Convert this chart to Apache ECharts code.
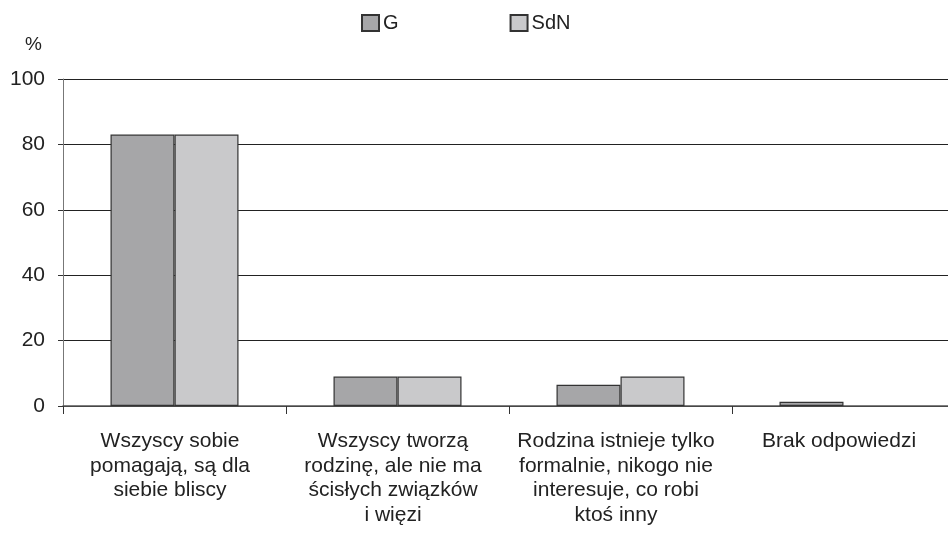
<!DOCTYPE html>
<html>
<head>
<meta charset="utf-8">
<script src="https://cdn.jsdelivr.net/npm/echarts@6/dist/echarts.min.js"></script>
<style>
html, body { margin: 0; padding: 0; background: #fff; }
#chart { width: 948px; height: 540px; }
</style>
</head>
<body>
<div id="chart"></div>
<script>
const categories = [
    'Wszyscy sobie\npomagają, są dla\nsiebie bliscy',
    'Wszyscy tworzą\nrodzinę, ale nie ma\nścisłych związków\ni więzi',
    'Rodzina istnieje tylko\nformalnie, nikogo nie\ninteresuje, co robi\nktoś inny',
    'Brak odpowiedzi'
];
const seriesNames = ['G', 'SdN'];
const valuesG = [83, 9, 6.5, 1.3];
const valuesSdN = [83, 9, 9, null];

const myChart = echarts.init(document.getElementById('chart'));
const font = 'Liberation Sans, Arial, sans-serif';

const option = {
    animation: false,
    textStyle: { fontFamily: font, color: '#222' },
    title: {
        text: '%',
        left: 20,
        top: 30,
        padding: 5,
        textStyle: { fontFamily: font, fontSize: 19, fontWeight: 'normal', color: '#222' }
    },
    legend: {
        top: 13,
        left: 361,
        padding: 0,
        icon: 'rect',
        itemWidth: 17,
        itemHeight: 16,
        itemGap: 111,
        textStyle: { fontSize: 20, color: '#222', padding: [0, 0, 0, -1] },
        data: seriesNames
    },
    grid: {
        left: 63,
        top: 79,
        right: -7,
        height: 327,
        outerBoundsMode: 'none'
    },
    xAxis: {
        type: 'category',
        data: categories,
        axisLine: { lineStyle: { color: '#555', width: 1.5 } },
        axisTick: { show: true, length: 8, lineStyle: { color: '#333' } },
        axisLabel: {
            fontSize: 21,
            lineHeight: 24.5,
            margin: 23,
            color: '#222',
            interval: 0,
            padding: [0, 9, 0, 0]
        }
    },
    yAxis: {
        type: 'value',
        min: 0,
        max: 100,
        interval: 20,
        axisLine: { show: true, lineStyle: { color: '#777' } },
        axisTick: { show: true, length: 5, lineStyle: { color: '#333' } },
        axisLabel: { fontSize: 21, color: '#222', margin: 18 },
        splitLine: { lineStyle: { color: '#222', width: 1 } }
    },
    series: [
        {
            name: 'G',
            type: 'bar',
            data: valuesG,
            barWidth: 64,
            barGap: '0%',
            itemStyle: { color: '#a6a6a8', borderColor: '#333', borderWidth: 1.2 }
        },
        {
            name: 'SdN',
            type: 'bar',
            data: valuesSdN,
            barWidth: 64,
            barGap: '0%',
            itemStyle: { color: '#c9c9cb', borderColor: '#333', borderWidth: 1.2 }
        }
    ]
};
myChart.setOption(option);
</script>
</body>
</html>
